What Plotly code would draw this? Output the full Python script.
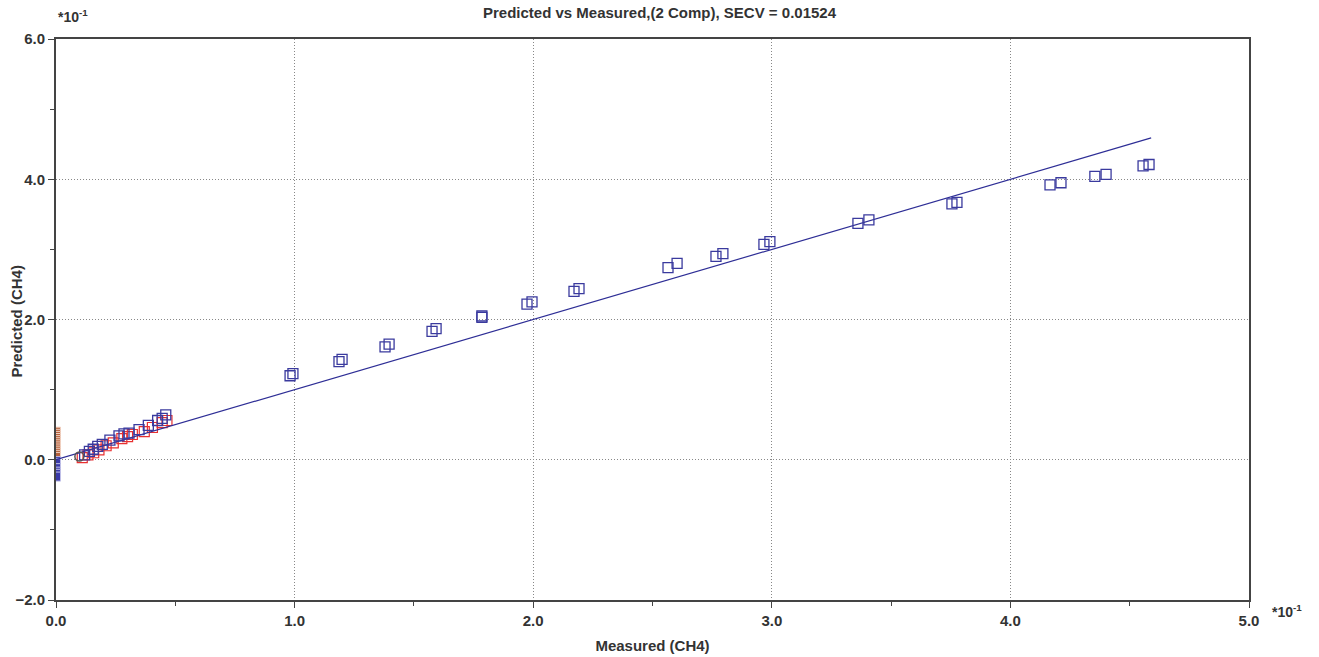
import plotly.graph_objects as go

# Calibration samples (blue open squares), units of 1e-1
meas_blue = [0.12, 0.14, 0.156, 0.175, 0.194, 0.226, 0.264, 0.285, 0.306, 0.348, 0.387, 0.426, 0.445, 0.46,
             0.981, 0.993, 1.186, 1.199, 1.379, 1.396, 1.576, 1.593, 1.785, 1.785, 1.974, 1.995,
             2.171, 2.192, 2.565, 2.603, 2.766, 2.795, 2.967, 2.992, 3.361, 3.407, 3.755, 3.776,
             4.166, 4.212, 4.354, 4.401, 4.556, 4.581]
pred_blue = [0.07, 0.12, 0.15, 0.19, 0.22, 0.28, 0.34, 0.37, 0.38, 0.43, 0.49, 0.56, 0.59, 0.64,
             1.198, 1.227, 1.40, 1.43, 1.61, 1.65, 1.83, 1.87, 2.03, 2.05, 2.22, 2.25,
             2.40, 2.44, 2.74, 2.80, 2.90, 2.94, 3.07, 3.11, 3.37, 3.42, 3.65, 3.67,
             3.92, 3.95, 4.04, 4.07, 4.19, 4.21]

# Validation samples (red open squares) near the origin
meas_red = [0.11, 0.134, 0.158, 0.18, 0.21, 0.24, 0.276, 0.30, 0.32, 0.37, 0.404, 0.445, 0.465]
pred_red = [0.03, 0.07, 0.10, 0.14, 0.20, 0.24, 0.30, 0.33, 0.36, 0.40, 0.46, 0.53, 0.56]

# Samples with zero measured value
zero_meas_brown = [0.0] * 13
zero_pred_brown = [0.40, 0.37, 0.34, 0.31, 0.28, 0.25, 0.22, 0.19, 0.16, 0.13, 0.10, 0.07, 0.04]
zero_meas_blue = [0.0] * 6
zero_pred_blue = [-0.02, -0.05, -0.12, -0.17, -0.20, -0.24]

# Highlighted sample (circle)
hl_meas = [0.098]
hl_pred = [0.047]

# Target line
line_x = [0.0, 4.59]
line_y = [0.0, 4.59]

x_ticks = [0, 1, 2, 3, 4, 5]
y_ticks = [-2, 0, 2, 4, 6]

BLUE = "#3a3a9e"
fig = go.Figure()
fig.add_trace(go.Scatter(x=zero_meas_brown, y=zero_pred_brown, mode="markers",
                         marker=dict(symbol="square", size=9, color="#b5603a",
                                     line=dict(color="#f0d0c0", width=1))))
fig.add_trace(go.Scatter(x=zero_meas_blue, y=zero_pred_blue, mode="markers",
                         marker=dict(symbol="square", size=9, color="#3a3aa8",
                                     line=dict(color="#c0c0e8", width=1))))
fig.add_trace(go.Scatter(x=meas_red, y=pred_red, mode="markers",
                         marker=dict(symbol="square-open", size=10, color="#e83030",
                                     line=dict(width=1.2))))
fig.add_trace(go.Scatter(x=line_x, y=line_y, mode="lines",
                         line=dict(color="#2e2e96", width=1.2)))
fig.add_trace(go.Scatter(x=meas_blue, y=pred_blue, mode="markers",
                         marker=dict(symbol="square-open", size=10, color=BLUE,
                                     line=dict(width=1.3))))
fig.add_trace(go.Scatter(x=hl_meas, y=hl_pred, mode="markers",
                         marker=dict(symbol="circle-open", size=9, color="#555555",
                                     line=dict(width=1.5))))

font = "Liberation Sans, Arial, sans-serif"
fig.update_layout(
    width=1319, height=657,
    margin=dict(l=56, r=70, t=39, b=57),
    paper_bgcolor="white", plot_bgcolor="white",
    showlegend=False,
    font=dict(family=font, size=15, color="#333333"),
    title=dict(text="<b>Predicted vs Measured,(2 Comp), SECV = 0.01524</b>",
               x=0.5, xanchor="center", y=0.98, yanchor="middle",
               font=dict(size=15, color="#333333")),
    xaxis=dict(range=[0, 5], tickvals=x_ticks, tickformat=".1f", automargin=False,
               ticks="outside", ticklen=6, tickcolor="#444",
               showline=True, linecolor="#444", linewidth=2, mirror=True,
               showgrid=True, gridcolor="#888", griddash="1px,2px", gridwidth=1,
               zeroline=False,
               minor=dict(tickvals=[0.5, 1.5, 2.5, 3.5, 4.5], ticks="outside", ticklen=4,
                          tickcolor="#444", showgrid=False),
               tickfont=dict(size=15, weight="bold"),
               title=dict(text="<b>Measured (CH4)</b>", font=dict(size=15), standoff=12)),
    yaxis=dict(range=[-2, 6], tickvals=y_ticks, tickformat=".1f", automargin=False,
               ticks="outside", ticklen=6, tickcolor="#444",
               showline=True, linecolor="#444", linewidth=2, mirror=True,
               showgrid=True, gridcolor="#888", griddash="1px,2px", gridwidth=1,
               zeroline=False,
               minor=dict(tickvals=[-1, 1, 3, 5], ticks="outside", ticklen=4,
                          tickcolor="#444", showgrid=False),
               tickfont=dict(size=15, weight="bold")),
    annotations=[
        dict(text="<b>Predicted (CH4)</b>", xref="paper", yref="paper", x=-0.0327, y=0.498,
             xanchor="center", yanchor="middle", textangle=-90, showarrow=False,
             font=dict(size=15)),
        dict(text="<b>*10<sup>-1</sup></b>", xref="paper", yref="paper", x=0.0, y=1.041,
             xanchor="left", yanchor="middle", showarrow=False, font=dict(size=14)),
        dict(text="<b>*10<sup>-1</sup></b>", xref="paper", yref="paper", x=1.0176, y=0.0,
             xanchor="left", yanchor="top", showarrow=False, font=dict(size=14)),
    ],
)
fig.write_html("out.html")
